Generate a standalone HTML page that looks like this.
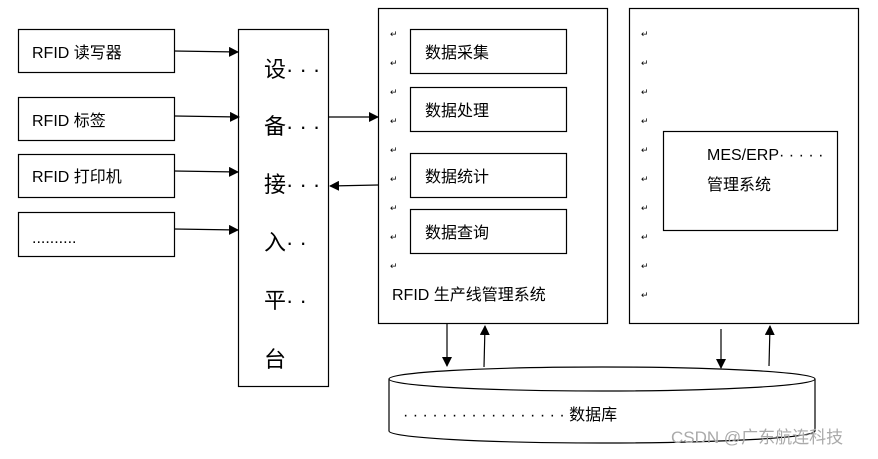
<!DOCTYPE html>
<html><head><meta charset="utf-8"><style>
body{margin:0;background:#fff;}
svg text{font-family:"Liberation Sans","Noto Sans CJK SC",sans-serif;fill:#000;}
</style></head><body>
<svg width="878" height="454" viewBox="0 0 878 454" xmlns="http://www.w3.org/2000/svg">
<defs><marker id="a" markerWidth="10" markerHeight="10" refX="9" refY="5" orient="auto" markerUnits="userSpaceOnUse"><path d="M0,0 L10,5 L0,10 z" fill="#000"/></marker></defs>
<g fill="none" stroke="#000" stroke-width="1.2">
<rect x="18.5" y="29.5" width="156" height="43"/>
<rect x="18.5" y="97.5" width="156" height="43"/>
<rect x="18.5" y="154.5" width="156" height="43"/>
<rect x="18.5" y="212.5" width="156" height="44"/>
<rect x="238.5" y="29.5" width="90" height="357"/>
<rect x="378.5" y="8.5" width="229" height="315"/>
<rect x="629.5" y="8.5" width="229" height="315"/>
<rect x="410.5" y="29.5" width="156" height="44"/>
<rect x="410.5" y="87.5" width="156" height="44"/>
<rect x="410.5" y="153.5" width="156" height="44"/>
<rect x="410.5" y="209.5" width="156" height="44"/>
<rect x="663.5" y="131.5" width="174" height="99"/>
<path d="M389,379 L389,431 A213,12 0 0 0 815,431 L815,379"/>
<ellipse cx="602" cy="379" rx="213" ry="12" fill="#fff"/>
<g marker-end="url(#a)">
<line x1="174" y1="51" x2="238" y2="52"/>
<line x1="175" y1="116" x2="239" y2="117"/>
<line x1="174" y1="171" x2="238" y2="172"/>
<line x1="174" y1="229" x2="238" y2="230"/>
<line x1="329" y1="117" x2="378" y2="117"/>
<line x1="378" y1="185" x2="330" y2="186"/>
<line x1="447" y1="324" x2="447" y2="366"/>
<line x1="484" y1="367" x2="485" y2="326"/>
<line x1="721" y1="329" x2="721" y2="368"/>
<line x1="769" y1="366" x2="770" y2="326"/>
</g></g>
<g font-size="16">
<text x="32" y="58">RFID 读写器</text>
<text x="32" y="126">RFID 标签</text>
<text x="32" y="182">RFID 打印机</text>
<text x="32" y="243">..........</text>
<text x="425" y="58">数据采集</text>
<text x="425" y="116">数据处理</text>
<text x="425" y="182">数据统计</text>
<text x="425" y="238">数据查询</text>
<text x="392" y="300">RFID 生产线管理系统</text>
<text x="707" y="160">MES/ERP· · · · ·</text>
<text x="707" y="190">管理系统</text>
<text x="403" y="420">· · · · · · · · · · · · · · · · · 数据库</text>
</g>
<g font-size="22">
<text x="264" y="77">设· · ·</text>
<text x="264" y="134">备· · ·</text>
<text x="264" y="192">接· · ·</text>
<text x="264" y="250">入· ·</text>
<text x="264" y="308">平· ·</text>
<text x="264" y="367">台</text>
</g>
<g font-size="9" fill="#666">
<text x="390" y="37">↵</text><text x="390" y="66">↵</text><text x="390" y="95">↵</text><text x="390" y="124">↵</text><text x="390" y="153">↵</text><text x="390" y="182">↵</text><text x="390" y="211">↵</text><text x="390" y="240">↵</text><text x="390" y="269">↵</text>
<text x="641" y="37">↵</text><text x="641" y="66">↵</text><text x="641" y="95">↵</text><text x="641" y="124">↵</text><text x="641" y="153">↵</text><text x="641" y="182">↵</text><text x="641" y="211">↵</text><text x="641" y="240">↵</text><text x="641" y="269">↵</text><text x="641" y="298">↵</text>
</g>
<text x="671" y="443" font-size="17" style="fill:#aaa">CSDN @广东航连科技</text>
</svg>
</body></html>
